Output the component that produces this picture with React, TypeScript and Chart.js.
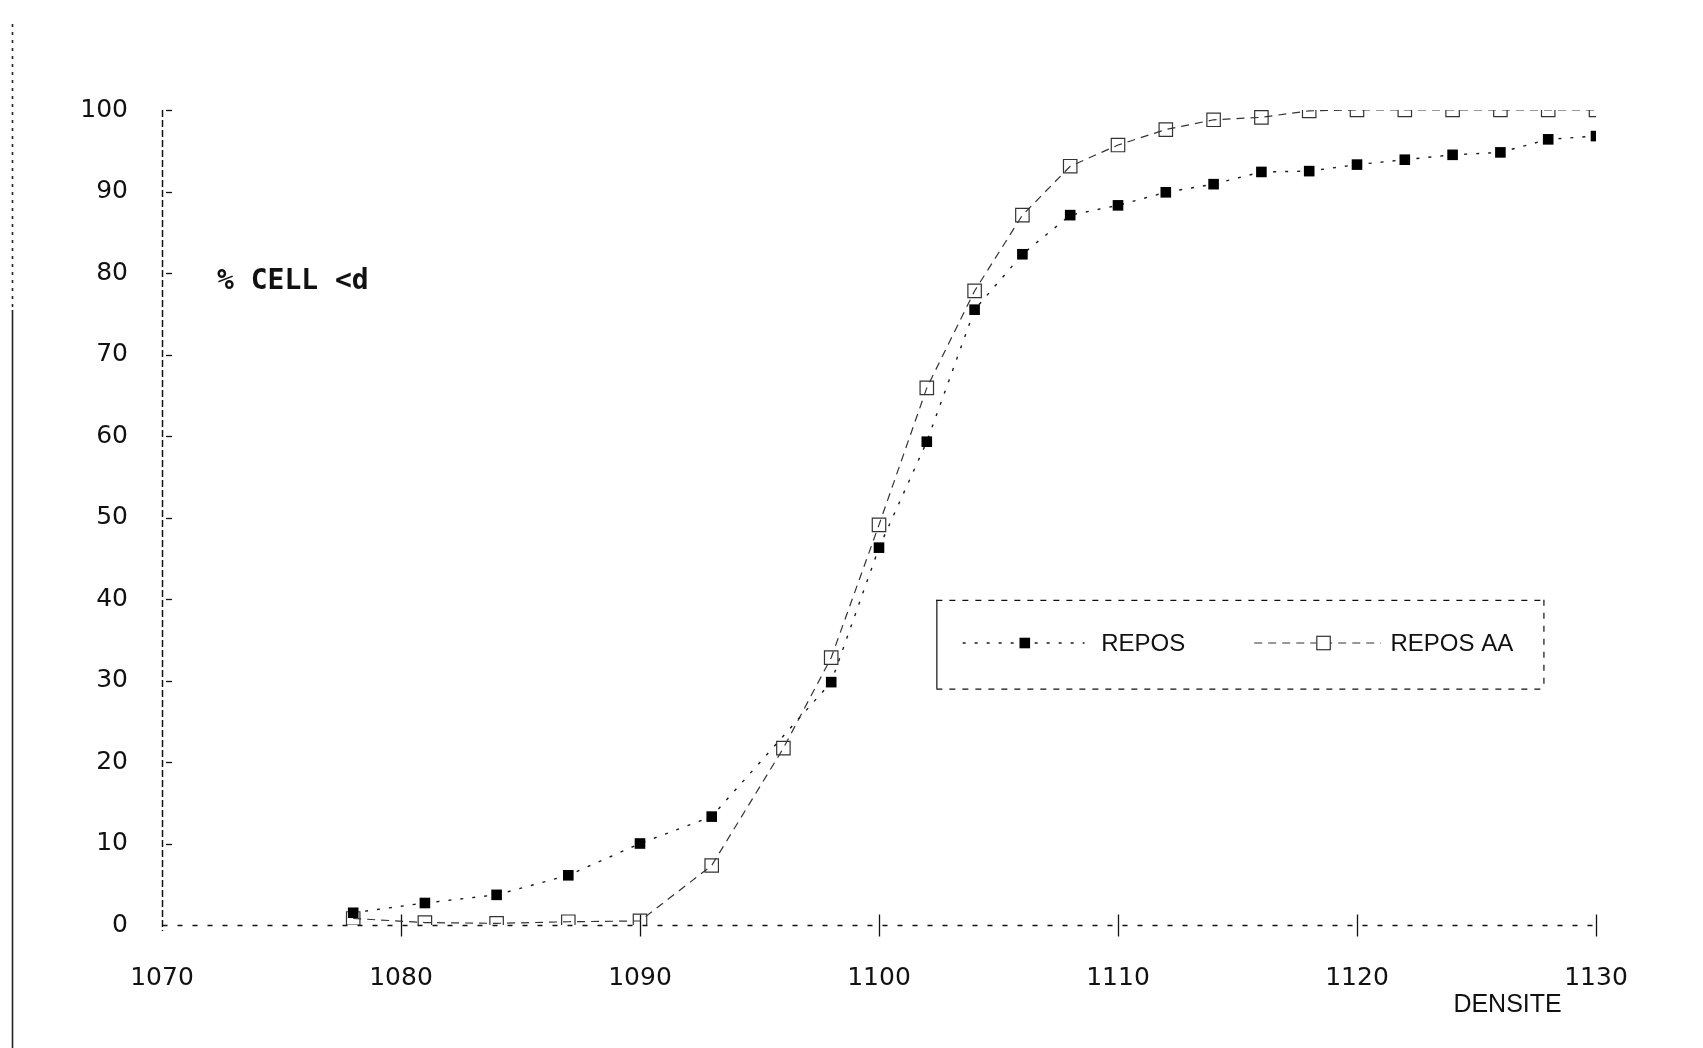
import React, { useEffect, useRef } from "react";
import { Chart, registerables } from "chart.js";

Chart.register(...registerables);

// ---- data ----
const densiteRepos = [1078, 1081, 1084, 1087, 1090, 1093, 1098, 1100, 1102, 1104, 1106, 1108, 1110, 1112, 1114, 1116, 1118, 1120, 1122, 1124, 1126, 1128, 1130];
const valuesRepos = [1.5, 2.7, 3.7, 6.1, 10.0, 13.3, 29.8, 46.3, 59.3, 75.5, 82.3, 87.1, 88.3, 89.9, 90.9, 92.4, 92.5, 93.3, 93.9, 94.5, 94.8, 96.4, 96.8];
const densiteReposAA = [1078, 1081, 1084, 1087, 1090, 1093, 1096, 1098, 1100, 1102, 1104, 1106, 1108, 1110, 1112, 1114, 1116, 1118, 1120, 1122, 1124, 1126, 1128, 1130];
const valuesReposAA = [0.8, 0.3, 0.2, 0.4, 0.5, 7.3, 21.7, 32.8, 49.1, 65.9, 77.8, 87.1, 93.1, 95.7, 97.6, 98.8, 99.1, 99.9, 100, 100, 100, 100, 100, 100];
const seriesLabels = ["REPOS", "REPOS AA"];
const xTickValues = [1070, 1080, 1090, 1100, 1110, 1120, 1130];
const yTickValues = [0, 10, 20, 30, 40, 50, 60, 70, 80, 90, 100];
const yAxisTitle = "% CELL <d";
const xAxisTitle = "DENSITE";

const INK = "#111111";

export default function App() {
  const canvasRef = useRef<HTMLCanvasElement | null>(null);

  useEffect(() => {
    const canvas = canvasRef.current;
    if (!canvas) return;

    const decor = {
      id: "decor",
      beforeDraw(chart: any) {
        const { ctx, width, height } = chart;
        ctx.save();
        ctx.fillStyle = "#ffffff";
        ctx.fillRect(0, 0, width, height);
        // scanned page edge on the left
        ctx.strokeStyle = "#222";
        ctx.lineWidth = 1.6;
        ctx.setLineDash([3, 5]);
        ctx.beginPath();
        ctx.moveTo(12.5, 24);
        ctx.lineTo(12.5, 310);
        ctx.stroke();
        ctx.setLineDash([]);
        ctx.beginPath();
        ctx.moveTo(12.5, 310);
        ctx.lineTo(12.5, height);
        ctx.stroke();
        ctx.restore();
      },
      beforeDatasetsDraw(chart: any) {
        const { ctx, chartArea } = chart;
        const xs = chart.scales.x;
        const ys = chart.scales.y;
        ctx.save();
        ctx.strokeStyle = INK;
        // y axis (dashed)
        const ax = Math.round(chartArea.left) + 0.5;
        ctx.lineWidth = 1.5;
        ctx.setLineDash([7, 3]);
        ctx.beginPath();
        ctx.moveTo(ax, ys.getPixelForValue(100));
        ctx.lineTo(ax, ys.getPixelForValue(0) + 6);
        ctx.stroke();
        // x axis (dashed)
        const ay = Math.round(ys.getPixelForValue(0)) + 0.5;
        ctx.lineWidth = 1.3;
        ctx.setLineDash([5, 10]);
        ctx.beginPath();
        ctx.moveTo(ax, ay);
        ctx.lineTo(xs.getPixelForValue(1130), ay);
        ctx.stroke();
        ctx.setLineDash([]);
        // small inward tick marks on the y axis
        for (const v of yTickValues) {
          if (v === 0) continue;
          const py = Math.round(ys.getPixelForValue(v)) + 0.5;
          ctx.beginPath();
          ctx.moveTo(chartArea.left + 4, py);
          ctx.lineTo(chartArea.left + 10, py);
          ctx.stroke();
        }
        // crossing tick marks on the x axis
        for (const v of xTickValues) {
          if (v === xTickValues[0]) continue;
          const px = Math.round(xs.getPixelForValue(v)) + 0.5;
          ctx.beginPath();
          ctx.moveTo(px, ay - 11);
          ctx.lineTo(px, ay + 11);
          ctx.stroke();
        }
        ctx.restore();
      },
      afterDraw(chart: any) {
        const { ctx, chartArea } = chart;
        const xs = chart.scales.x;
        const ys = chart.scales.y;
        ctx.save();
        ctx.strokeStyle = INK;

        // axis titles
        ctx.fillStyle = INK;
        ctx.font = "bold 28px 'DejaVu Sans Mono', monospace";
        ctx.textAlign = "left";
        ctx.textBaseline = "middle";
        ctx.fillText(yAxisTitle, xs.getPixelForValue(1072.3), ys.getPixelForValue(78.9));

        ctx.font = "25px 'Liberation Sans', Arial, sans-serif";
        ctx.textAlign = "center";
        ctx.fillText(xAxisTitle, xs.getPixelForValue(1126.3), chartArea.bottom + 80);

        // legend box
        const bx0 = xs.getPixelForValue(1102.4);
        const bx1 = xs.getPixelForValue(1127.8);
        const by0 = ys.getPixelForValue(39.9);
        const by1 = ys.getPixelForValue(29.0);
        ctx.lineWidth = 1.2;
        ctx.setLineDash([6, 7]);
        ctx.beginPath();
        ctx.moveTo(bx0, by0 + 0.5);
        ctx.lineTo(bx1, by0 + 0.5);
        ctx.moveTo(bx0, by1 + 0.5);
        ctx.lineTo(bx1, by1 + 0.5);
        ctx.moveTo(bx1 + 0.5, by0);
        ctx.lineTo(bx1 + 0.5, by1);
        ctx.stroke();
        ctx.setLineDash([]);
        ctx.beginPath();
        ctx.moveTo(bx0 + 0.5, by0);
        ctx.lineTo(bx0 + 0.5, by1);
        ctx.stroke();

        const rowY = ys.getPixelForValue(34.6);
        const items = [
          { l0: 1103.5, l1: 1108.6, m: 1106.1, t: 1109.3 },
          { l0: 1115.7, l1: 1121.0, m: 1118.6, t: 1121.4 },
        ];
        chart.data.datasets.forEach((ds: any, i: number) => {
          const it = items[i];
          ctx.strokeStyle = ds.borderColor;
          ctx.lineWidth = ds.borderWidth;
          ctx.setLineDash(ds.borderDash || []);
          ctx.beginPath();
          ctx.moveTo(xs.getPixelForValue(it.l0), rowY);
          ctx.lineTo(xs.getPixelForValue(it.l1), rowY);
          ctx.stroke();
          ctx.setLineDash([]);
          const mx = xs.getPixelForValue(it.m);
          const half = ds.pointRadius * Math.SQRT1_2;
          if (ds.pointBorderWidth > 0) {
            ctx.fillStyle = "#ffffff";
            ctx.fillRect(mx - half, rowY - half, half * 2, half * 2);
            ctx.strokeStyle = ds.pointBorderColor;
            ctx.lineWidth = ds.pointBorderWidth;
            ctx.strokeRect(mx - half, rowY - half, half * 2, half * 2);
          } else {
            ctx.fillStyle = ds.pointBackgroundColor;
            ctx.fillRect(mx - half, rowY - half, half * 2, half * 2);
          }
          ctx.fillStyle = INK;
          ctx.font = "24px 'Liberation Sans', Arial, sans-serif";
          ctx.textAlign = "left";
          ctx.textBaseline = "middle";
          ctx.fillText(ds.label, xs.getPixelForValue(it.t), rowY + 1);
        });
        ctx.restore();
      },
    };

    const chart = new Chart(canvas, {
      type: "scatter",
      data: {
        datasets: [
          {
            label: seriesLabels[0],
            data: densiteRepos.map((x, i) => ({ x, y: valuesRepos[i] })),
            showLine: true,
            borderColor: "#1a1a1a",
            borderWidth: 1.4,
            borderDash: [3, 9],
            pointStyle: "rect",
            pointRadius: 7.5,
            pointBackgroundColor: "#000000",
            pointBorderColor: "#000000",
            pointBorderWidth: 0,
          },
          {
            label: seriesLabels[1],
            data: densiteReposAA.map((x, i) => ({ x, y: valuesReposAA[i] })),
            showLine: true,
            borderColor: "#333333",
            borderWidth: 1.2,
            borderDash: [8, 6],
            pointStyle: "rect",
            pointRadius: 9.5,
            pointBackgroundColor: "rgba(255,255,255,0)",
            pointBorderColor: "#333333",
            pointBorderWidth: 1.2,
          },
        ],
      },
      plugins: [decor],
      options: {
        animation: false,
        responsive: true,
        maintainAspectRatio: false,
        layout: { padding: { left: 0, top: 110, right: 107, bottom: 0 } },
        plugins: {
          legend: { display: false },
          tooltip: { enabled: false },
          title: { display: false },
        },
        scales: {
          x: {
            type: "linear",
            min: 1070,
            max: 1130,
            afterFit: (scale: any) => {
              scale.height = 123;
            },
            afterBuildTicks: (scale: any) => {
              scale.ticks = xTickValues.map((value) => ({ value }));
            },
            ticks: {
              color: INK,
              font: { family: "'DejaVu Sans', sans-serif", size: 25 },
              padding: 38,
              maxRotation: 0,
              callback: (v: any) => String(v),
            },
            grid: { display: false, drawTicks: false },
            border: { display: false },
          },
          y: {
            type: "linear",
            min: 0,
            max: 100,
            afterFit: (scale: any) => {
              scale.width = 162;
            },
            afterBuildTicks: (scale: any) => {
              scale.ticks = yTickValues.map((value) => ({ value }));
            },
            ticks: {
              color: INK,
              font: { family: "'DejaVu Sans', sans-serif", size: 25 },
              padding: 34,
              callback: (v: any) => String(v),
            },
            grid: { display: false, drawTicks: false },
            border: { display: false },
          },
        },
      },
    });

    return () => {
      chart.destroy();
    };
  }, []);

  return (
    <div
      style={{
        position: "fixed",
        left: 0,
        top: 0,
        width: "1703px",
        height: "1048px",
        background: "#ffffff",
      }}
    >
      <canvas ref={canvasRef} />
    </div>
  );
}
